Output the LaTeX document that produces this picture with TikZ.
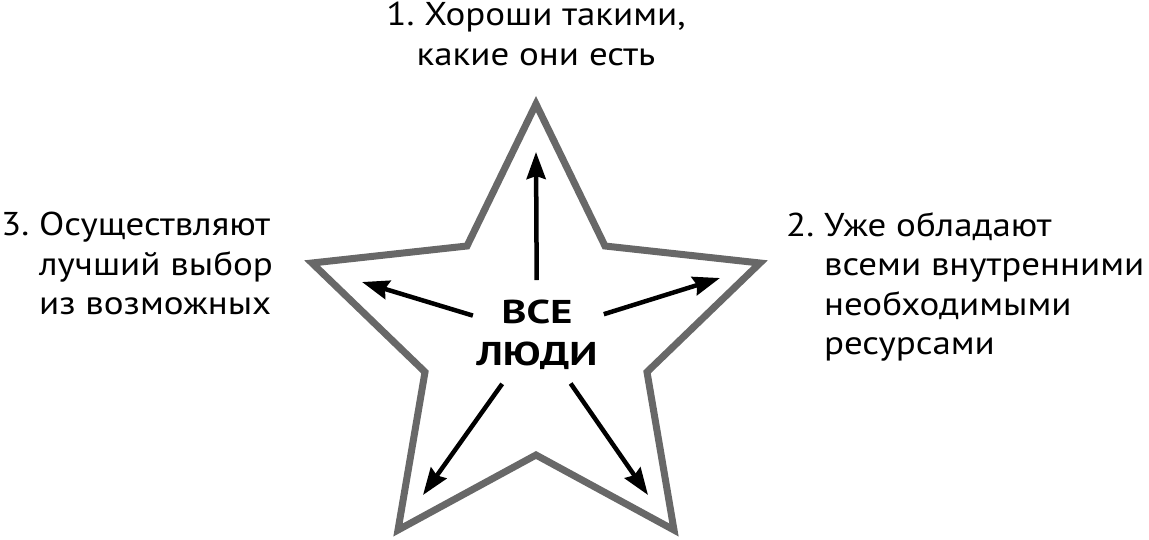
\documentclass[tikz,border=0pt]{standalone}
\usepackage{fontspec}
\setmainfont{PT Sans}[FakeStretch=1.12]
\newfontfamily\fett{PT Sans}[FakeStretch=1.28]
\usetikzlibrary{arrows.meta}
\definecolor{stern}{RGB}{104,104,104}
\tikzset{
	pfeil/.style={line width=4.5pt, -{Stealth[length=27pt,width=19pt,inset=3pt]}},
	schrift/.style={inner sep=0pt, font=\fontsize{33}{39.5}\selectfont},
}

\begin{document}
\begin{tikzpicture}[x=1pt,y=-1pt]
	\useasboundingbox (0,0) rectangle (1149,539);
	% Stern
	\draw[stern, line width=7pt, line join=miter] (536,104) -- (467,246) -- (312,263) -- (425,372) -- (398,530) -- (536,455) -- (674,530) -- (647,372) -- (760,263) -- (605,246) -- cycle;
	\node[font=\fett\bfseries\fontsize{33}{42}\selectfont, align=center] (leute) at (537,335) {ВСЕ\\ЛЮДИ};
	% Pfeilspitzen
	\coordinate (o) at (536,152);
	\coordinate (l) at (362,282);
	\coordinate (r) at (720,278);
	\coordinate (ul) at (423,495);
	\coordinate (ur) at (648,495);
	\foreach \ziel/\ab in {o/55,l/67,r/70,ul/60,ur/59}
		\draw[pfeil, shorten <=\ab pt] (leute.center) -- (\ziel);
	% Texte
	\node[schrift, align=center, anchor=north] (eins) at (536,2) {1.~Хороши такими,\\какие они есть};
	\node[schrift, align=left, anchor=north west] (zwei) at (786,212) {2.~Уже обладают\\\phantom{2.~}всеми внутренними\\\phantom{2.~}необходимыми\\\phantom{2.~}ресурсами};
	\node[schrift, align=left, anchor=north west] (drei) at (1,212) {3.~Осуществляют\\\phantom{3.~}лучший выбор\\\phantom{3.~}из возможных};
\end{tikzpicture}
\end{document}
